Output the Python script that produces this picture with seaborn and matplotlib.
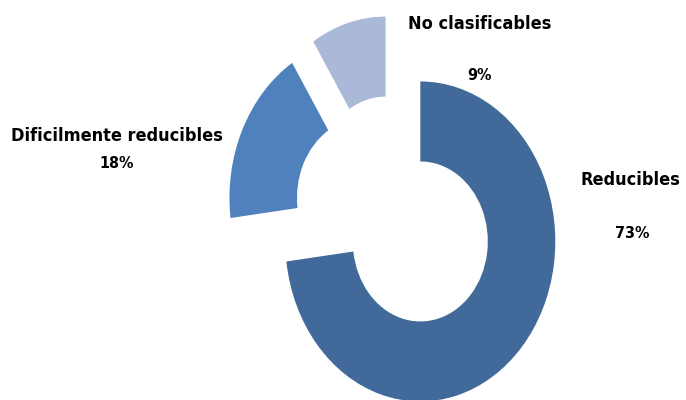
import matplotlib
matplotlib.use('Agg')
import matplotlib.pyplot as plt
import seaborn as sns

# datos
categorias = ['Reducibles', 'Dificilmente reducibles', 'No clasificables']
porcentajes = [73, 18, 9]
colores = ['#416A9A', '#4F81BD', '#AAB9D7']

sns.set_theme(style='white')
plt.rcParams['font.family'] = ['DejaVu Sans']
plt.rcParams['font.stretch'] = 'condensed'

fig = plt.figure(figsize=(6.86, 4.0), dpi=100)
ax = fig.add_axes([0, 0, 1, 1])

ax.pie(porcentajes, colors=colores, startangle=90, counterclock=False,
       explode=[0.25, 0.25, 0.25],
       wedgeprops=dict(width=0.5, edgecolor='none', antialiased=True))

# el grafico original esta estirado verticalmente
ax.set_aspect('auto')
ax.set_xlim(-395 / 135, (686 - 395) / 135)
ax.set_ylim((215 - 400) / 160, 215 / 160)
ax.axis('off')

# etiquetas (posiciones en pixeles de la imagen)
pos_nombre = [(630, 180), (117, 136), (480, 24)]
pos_pct = [(632, 233), (117, 164), (479, 76)]

def px(x, y):
    return (x - 395) / 135, (215 - y) / 160

for nombre, p, pn, pp in zip(categorias, porcentajes, pos_nombre, pos_pct):
    ax.text(*px(*pn), nombre, ha='center', va='center', fontsize=13,
            fontweight='bold', fontstretch='condensed', color='black')
    ax.text(*px(*pp), f'{p}%', ha='center', va='center', fontsize=11.5,
            fontweight='bold', fontstretch='condensed', color='black')

fig.savefig('out.png', dpi=100, facecolor='white')
